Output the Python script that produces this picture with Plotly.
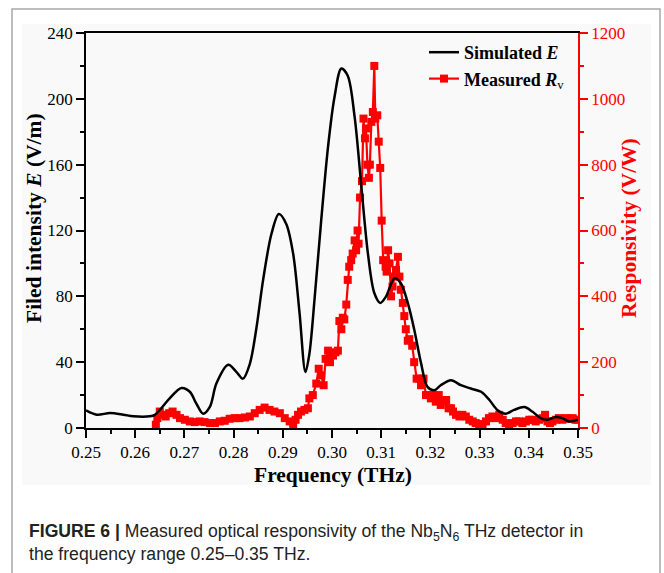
import plotly.graph_objects as go

# ---------------- data ----------------
sim_freq = [0.2500, 0.2522, 0.2549, 0.2576, 0.2596, 0.2630, 0.2640, 0.2653, 0.2670, 0.2694,
            0.2711, 0.2724, 0.2738, 0.2752, 0.2765, 0.2789, 0.2806, 0.2819, 0.2833, 0.2846,
            0.2860, 0.2877, 0.2892, 0.2907, 0.2921, 0.2934, 0.2946, 0.2954, 0.2965, 0.2978,
            0.2992, 0.3005, 0.3019, 0.3032, 0.3046, 0.3059, 0.3073, 0.3086, 0.3098, 0.3110,
            0.3127, 0.3140, 0.3154, 0.3167, 0.3181, 0.3194, 0.3208, 0.3221, 0.3242, 0.3262,
            0.3282, 0.3303, 0.3320, 0.3336, 0.3353, 0.3370, 0.3391, 0.3407, 0.3424, 0.3438,
            0.3455, 0.3468, 0.3482, 0.3500]
sim_E = [10.7, 8.1, 9.1, 8.1, 7.1, 7.1, 8.0, 12.0, 18.0, 24.3,
         22.0, 15.0, 8.7, 13.0, 27.0, 38.4, 34.0, 30.0, 39.0, 60.0,
         90.0, 118.0, 130.0, 124.0, 106.0, 70.0, 34.0, 45.0, 80.0, 126.0,
         171.0, 201.0, 218.4, 214.0, 189.0, 149.0, 106.0, 82.0, 76.0, 80.0,
         91.0, 88.0, 76.0, 60.0, 39.4, 25.0, 23.0, 26.0, 29.0, 26.0,
         24.0, 22.0, 17.0, 11.0, 8.7, 11.0, 12.7, 10.0, 6.0, 5.0,
         6.7, 6.0, 4.0, 5.0]

meas_freq = [0.2642, 0.2645, 0.2650, 0.2656, 0.2662, 0.2669, 0.2676, 0.2684, 0.2691, 0.2701,
             0.2711, 0.2721, 0.2731, 0.2741, 0.2752, 0.2762, 0.2772, 0.2782, 0.2792, 0.2802,
             0.2812, 0.2823, 0.2833, 0.2843, 0.2853, 0.2863, 0.2873, 0.2883, 0.2894, 0.2904,
             0.2914, 0.2921, 0.2926, 0.2931, 0.2937, 0.2944, 0.2951, 0.2954, 0.2961, 0.2968,
             0.2973, 0.2978, 0.2983, 0.2987, 0.2992, 0.2996, 0.3002, 0.3007, 0.3012, 0.3015,
             0.3019, 0.3022, 0.3025, 0.3029, 0.3032, 0.3035, 0.3039, 0.3042, 0.3046, 0.3049,
             0.3052, 0.3054, 0.3057, 0.3061, 0.3064, 0.3067, 0.3069, 0.3072, 0.3075, 0.3077,
             0.3080, 0.3083, 0.3086, 0.3088, 0.3092, 0.3095, 0.3098, 0.3101, 0.3104, 0.3109,
             0.3111, 0.3114, 0.3117, 0.3120, 0.3123, 0.3127, 0.3130, 0.3134, 0.3137, 0.3140,
             0.3144, 0.3147, 0.3150, 0.3154, 0.3157, 0.3163, 0.3167, 0.3172, 0.3177, 0.3181,
             0.3186, 0.3191, 0.3196, 0.3201, 0.3206, 0.3211, 0.3217, 0.3221, 0.3226, 0.3232,
             0.3237, 0.3242, 0.3246, 0.3252, 0.3259, 0.3265, 0.3272, 0.3279, 0.3286, 0.3292,
             0.3299, 0.3306, 0.3313, 0.3319, 0.3326, 0.3333, 0.3340, 0.3347, 0.3353, 0.3360,
             0.3367, 0.3374, 0.3380, 0.3387, 0.3394, 0.3401, 0.3407, 0.3414, 0.3421, 0.3428,
             0.3433, 0.3438, 0.3443, 0.3448, 0.3455, 0.3461, 0.3468, 0.3475, 0.3482, 0.3489,
             0.3495, 0.3500]
meas_Rv = [10, 30, 50, 40, 35, 45, 50, 40, 30, 25,
           20, 18, 20, 18, 15, 15, 20, 22, 28, 30,
           30, 32, 35, 45, 55, 62, 55, 50, 45, 30,
           20, 10, 25, 40, 50, 55, 60, 90, 100, 135,
           180, 160, 130, 210, 235, 200, 220, 230, 235, 325,
           300, 335, 330, 375, 450, 490, 510, 530, 570, 540,
           600, 560, 700, 750, 940, 880, 910, 800, 760, 800,
           930, 960, 1100, 940, 950, 870, 790, 630, 510, 490,
           475, 540, 500, 400, 430, 460, 480, 520, 460, 420,
           380, 340, 300, 265, 270, 250, 200, 150, 150, 130,
           150, 100, 100, 90, 100, 80, 100, 70, 80, 85,
           60, 60, 50, 40, 35, 40, 35, 25, 20, 15,
           10, 12, 20, 30, 35, 30, 40, 25, 15, 10,
           15, 20, 20, 15, 20, 25, 25, 20, 25, 30,
           40, 20, 15, 20, 25, 30, 25, 30, 28, 30,
           25, 25]

x_ticks = [0.25, 0.26, 0.27, 0.28, 0.29, 0.30, 0.31, 0.32, 0.33, 0.34, 0.35]
x_tick_text = ["0.25", "0.26", "0.27", "0.28", "0.29", "0.30", "0.31", "0.32", "0.33", "0.34", "0.35"]
E_ticks = [0, 40, 80, 120, 160, 200, 240]
Rv_ticks = [0, 200, 400, 600, 800, 1000, 1200]

x_title = "<b>Frequency (THz)</b>"
E_title = "<b>Filed intensity <i>E</i> (V/m)</b>"
Rv_title = "<b>Responsivity (V/W)</b>"
caption = ("<b>FIGURE 6 |</b> Measured optical responsivity of the Nb<sub>5</sub>N<sub>6</sub> THz detector in"
           "<br>the frequency range 0.25\u20130.35 THz.")

# ---------------- figure ----------------
W, H = 664, 573
L, R, T, B = 86, 86, 33, 145
pw, ph = W - L - R, H - T - B


def px(xp):
    return (xp - L) / pw


def py(yp):
    return (H - B - yp) / ph


serif = "Liberation Serif, Times New Roman, serif"
RED = "#ff0000"

fig = go.Figure()
fig.add_trace(go.Scatter(
    x=sim_freq, y=sim_E, yaxis="y2", mode="lines",
    name="<b>Simulated <i>E</i></b>",
    line=dict(color="black", width=2.5, shape="spline", smoothing=0.9),
))
fig.add_trace(go.Scatter(
    x=meas_freq, y=meas_Rv, yaxis="y", mode="lines+markers",
    name="<b>Measured <i>R</i></b><sub>v</sub>",
    line=dict(color=RED, width=2.2),
    marker=dict(symbol="square", size=8, color=RED),
))

tickfont = dict(family=serif, size=17, color="black")
titlefont = dict(family=serif, size=21.5, color="black")

fig.update_layout(
    width=W, height=H,
    margin=dict(l=L, r=R, t=T, b=B),
    paper_bgcolor="white",
    plot_bgcolor="#f9f9f9",
    showlegend=True,
    legend=dict(
        x=px(424), y=py(34), xanchor="left", yanchor="top",
        bgcolor="rgba(0,0,0,0)", font=dict(family=serif, size=18, color="black"),
        tracegroupgap=0, itemwidth=30,
    ),
    xaxis=dict(
        range=[0.25, 0.35], tickmode="array", tickvals=x_ticks, ticktext=x_tick_text,
        ticks="outside", ticklen=8, tickwidth=1.5, tickcolor="black",
        showline=True, linecolor="black", linewidth=1.5, mirror=True,
        showgrid=False, zeroline=False, tickfont=tickfont,
        minor=dict(dtick=0.005, tick0=0.25, ticks="outside", ticklen=4, tickwidth=1.5, tickcolor="black", showgrid=False),
    ),
    yaxis=dict(
        side="right", range=[0, 1200], tickmode="array", tickvals=Rv_ticks,
        ticks="outside", ticklen=8, tickwidth=1.5, tickcolor=RED,
        showline=True, linecolor=RED, linewidth=1.5,
        showgrid=False, zeroline=False,
        tickfont=dict(family=serif, size=17, color=RED),
        minor=dict(dtick=100, tick0=0, ticks="outside", ticklen=4, tickwidth=1.5, tickcolor=RED, showgrid=False),
    ),
    yaxis2=dict(
        overlaying="y", side="left", range=[0, 240], tickmode="array", tickvals=E_ticks,
        ticks="outside", ticklen=8, tickwidth=1.5, tickcolor="black",
        showline=True, linecolor="black", linewidth=1.5,
        showgrid=False, zeroline=False, tickfont=tickfont,
        minor=dict(dtick=20, tick0=0, ticks="outside", ticklen=4, tickwidth=1.5, tickcolor="black", showgrid=False),
    ),
    shapes=[
        dict(type="rect", xref="paper", yref="paper", layer="below",
             x0=px(22), x1=px(651), y0=py(485), y1=py(24),
             fillcolor="#f9f9f9", line=dict(width=0)),
        dict(type="rect", xref="paper", yref="paper", layer="below",
             x0=px(12), x1=px(660), y0=py(620), y1=py(9),
             fillcolor="rgba(0,0,0,0)", line=dict(color="#a8a8a8", width=1.5)),
    ],
    annotations=[
        dict(xref="paper", yref="paper", x=px(333), y=py(475), xanchor="center", yanchor="middle",
             showarrow=False, text=x_title, font=titlefont),
        dict(xref="paper", yref="paper", x=px(34), y=py(218), xanchor="center", yanchor="middle",
             showarrow=False, text=E_title, font=titlefont, textangle=-90),
        dict(xref="paper", yref="paper", x=px(629), y=py(228), xanchor="center", yanchor="middle",
             showarrow=False, text=Rv_title, font=dict(family=serif, size=21.5, color=RED), textangle=-90),
        dict(
            xref="paper", yref="paper", x=px(27), y=py(542), xanchor="left", yanchor="middle",
            align="left", showarrow=False, text=caption,
            font=dict(family="Liberation Sans Narrow, Liberation Sans, Arial, sans-serif", size=17.6, color="#222222"),
        ),
    ],
)

fig.write_html("out.html")
